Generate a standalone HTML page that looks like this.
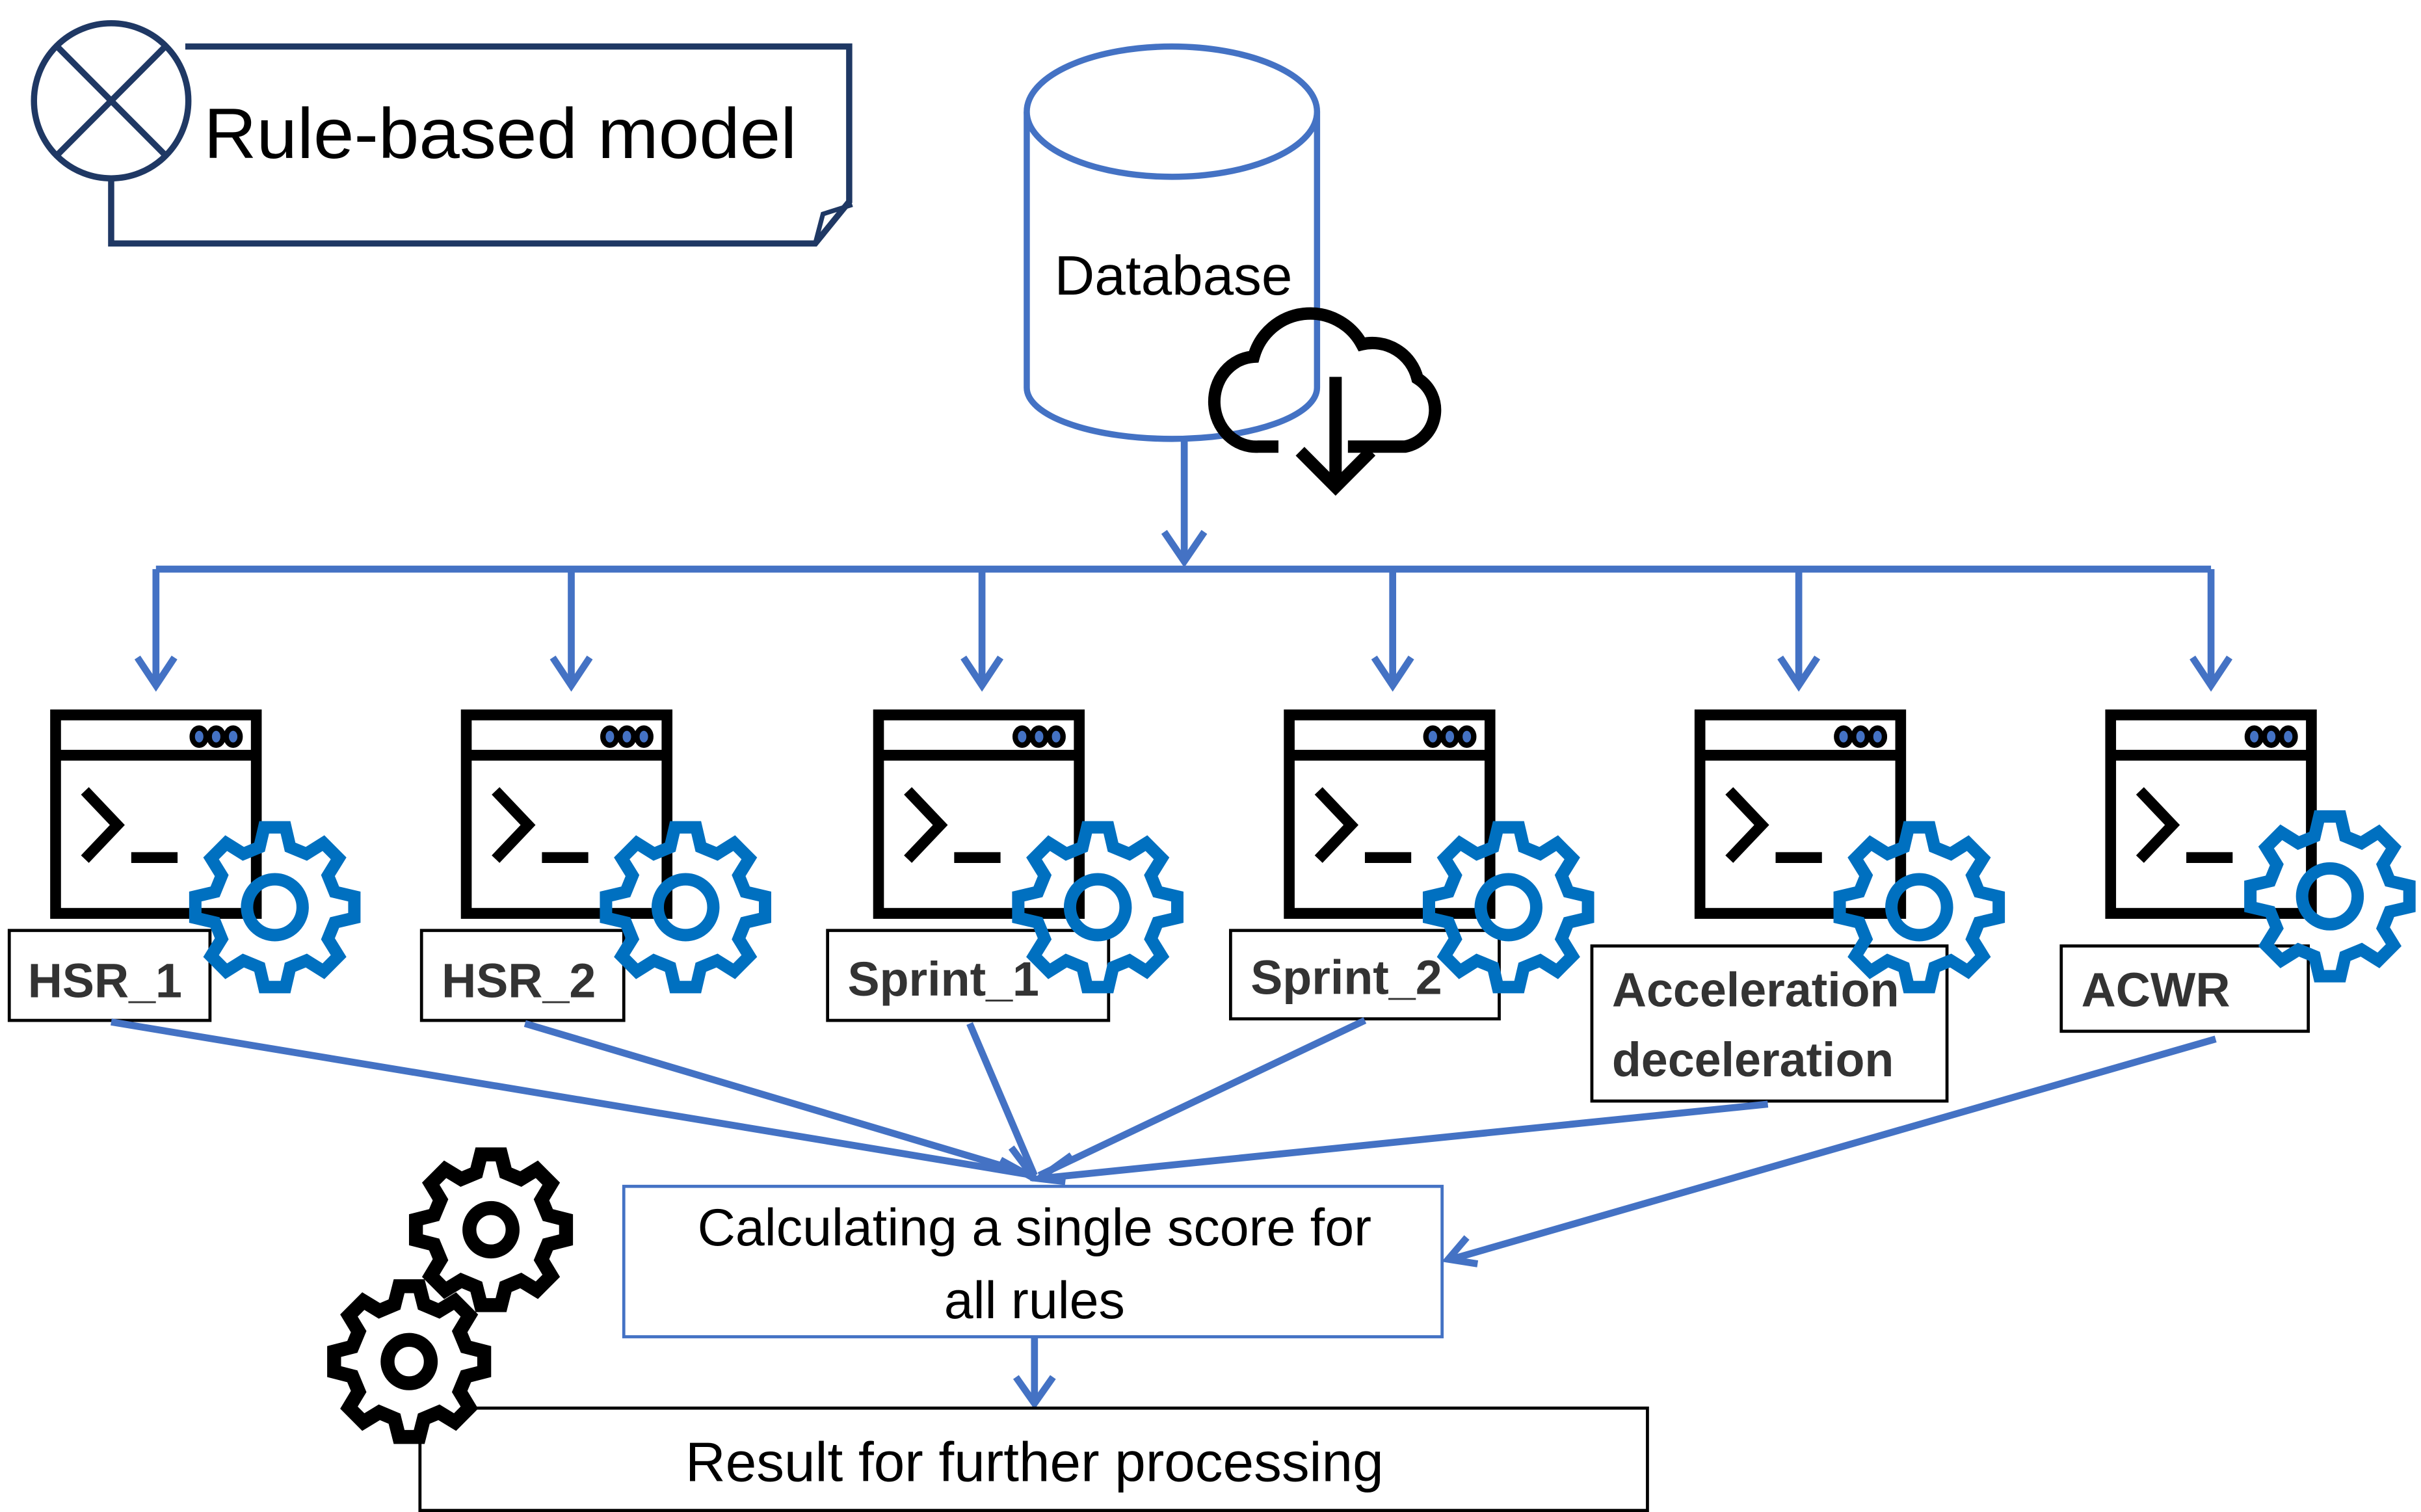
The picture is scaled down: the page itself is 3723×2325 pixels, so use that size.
<!DOCTYPE html>
<html><head><meta charset="utf-8"><style>
html,body{margin:0;padding:0;background:#fff;}
svg{display:block;}
text{font-family:"Liberation Sans",sans-serif;}
</style></head><body>
<svg id="s" width="3723" height="2325" viewBox="0 0 1568 975" preserveAspectRatio="none" xmlns="http://www.w3.org/2000/svg">
<!-- Rule-based model -->
<path d="M120 30 H550 V130 L528 157 H72 V115" fill="none" stroke="#1f3864" stroke-width="4"/>
<path d="M528 157 L533 138 L552 132" fill="none" stroke="#1f3864" stroke-width="3"/>
<circle cx="72" cy="65" r="50" fill="#fff" stroke="#1f3864" stroke-width="4"/>
<line x1="37" y1="30" x2="107" y2="100" stroke="#1f3864" stroke-width="4"/>
<line x1="107" y1="30" x2="37" y2="100" stroke="#1f3864" stroke-width="4"/>
<text x="132" y="102" font-size="46" fill="#000" textLength="384" lengthAdjust="spacingAndGlyphs">Rule-based model</text>
<!-- Database -->
<path d="M665 72 V250 A94 33 0 0 0 853 250 V72" fill="#fff" stroke="#4472c4" stroke-width="4"/>
<ellipse cx="759" cy="72" rx="94" ry="42" fill="#fff" stroke="#4472c4" stroke-width="4"/>
<text x="760" y="190" font-size="36" text-anchor="middle">Database</text>
<!-- cloud -->
<path d="M828 288 H815 A27 29 0 0 1 812 230 A38 38 0 0 1 882 222 A30 30 0 0 1 918 244 A24 24 0 0 1 910 288 H873" fill="none" stroke="#000" stroke-width="8"/>
<line x1="865" y1="243" x2="865" y2="312" stroke="#000" stroke-width="8"/>
<polyline points="842,291 865,314 888,291" fill="none" stroke="#000" stroke-width="8"/>
<!-- connectors -->
<g stroke="#4472c4" stroke-width="4.5" fill="none">
<line x1="767" y1="283" x2="767" y2="360"/>
<polyline points="754,343 767,362 780,343"/>
<line x1="101" y1="367" x2="1432" y2="367"/>
</g>
<g id="drops" stroke="#4472c4" stroke-width="4.5" fill="none"></g>
<g id="icons"></g>
<!-- labels -->
<g fill="#fff" stroke="#000" stroke-width="2">
<rect x="6" y="600" width="130" height="58"/>
<rect x="273" y="600" width="131" height="58"/>
<rect x="536" y="600" width="182" height="58"/>
<rect x="797" y="600" width="174" height="57"/>
<rect x="1031" y="610" width="230" height="100"/>
<rect x="1335" y="610" width="160" height="55"/>
</g>
<g id="gears"></g>
<g font-size="31" font-weight="bold" fill="#333">
<text x="18" y="643">HSR_1</text>
<text x="286" y="643">HSR_2</text>
<text x="549" y="642">Sprint_1</text>
<text x="810" y="641">Sprint_2</text>
<text x="1044" y="649">Acceleration</text>
<text x="1044" y="694">deceleration</text>
<text x="1348" y="649">ACWR</text>
</g>
<g stroke="#4472c4" stroke-width="4.5" fill="none">
<line x1="72" y1="659" x2="670" y2="758"/>
<line x1="340" y1="660" x2="670" y2="758"/>
<line x1="628" y1="660" x2="670" y2="758"/>
<line x1="884" y1="658" x2="673" y2="758"/>
<line x1="1145" y1="712" x2="673" y2="760"/>
<line x1="1435" y1="670" x2="940" y2="812"/>
<polyline points="648,748 670,760 655,740"/>
<polyline points="694,745 673,760 690,762"/>
<polyline points="950,798 938,812 957,815"/>
<line x1="670" y1="862" x2="670" y2="903"/>
<polyline points="658,888 670,905 682,888"/>
</g>
<rect x="404" y="765" width="530" height="97" fill="#fff" stroke="#4472c4" stroke-width="2"/>
<text x="670" y="803" font-size="34" text-anchor="middle">Calculating a single score for</text>
<text x="670" y="850" font-size="34" text-anchor="middle">all rules</text>
<rect x="272" y="908" width="795" height="66" fill="#fff" stroke="#000" stroke-width="2"/>
<text x="670" y="955" font-size="36" text-anchor="middle">Result for further processing</text>
<g id="bgears"></g>
</svg>
<script>
function gear(cx,cy,ro,ri,n){
  var p=[],step=2*Math.PI/n;
  for(var i=0;i<n;i++){
    var a=i*step-Math.PI/2;
    var pts=[[ri,a-step*0.32],[ro,a-step*0.17],[ro,a+step*0.17],[ri,a+step*0.32]];
    pts.forEach(function(q){p.push((cx+q[0]*Math.cos(q[1])).toFixed(1)+","+(cy+q[0]*Math.sin(q[1])).toFixed(1));});
  }
  return "M"+p.join(" L")+" Z";
}
var NS="http://www.w3.org/2000/svg";
function el(par,tag,at){var e=document.createElementNS(NS,tag);for(var k in at)e.setAttribute(k,at[k]);document.getElementById(par).appendChild(e);}
var xs=[33,299,566,832,1098,1364], ax=[101,370,636,902,1165,1432];
for(var i=0;i<6;i++){
  var x=xs[i];
  el("drops","line",{x1:ax[i],y1:367,x2:ax[i],y2:440});
  el("drops","polyline",{points:(ax[i]-12)+",424 "+ax[i]+",442 "+(ax[i]+12)+",424"});
  el("icons","rect",{x:x+3,y:461,width:130,height:128,fill:"#fff",stroke:"#000","stroke-width":7});
  el("icons","line",{x1:x,y1:487,x2:x+136,y2:487,stroke:"#000","stroke-width":7});
  for(var d=0;d<3;d++) el("icons","ellipse",{cx:x+96+d*11,cy:475,rx:4.5,ry:5.5,fill:"#4472c4",stroke:"#000","stroke-width":3.5});
  el("icons","polyline",{points:(x+22)+",510 "+(x+43)+",532 "+(x+22)+",554",fill:"none",stroke:"#000","stroke-width":7});
  el("icons","line",{x1:x+52,y1:553,x2:x+82,y2:553,stroke:"#000","stroke-width":7});
  var gx=x+145, gy=(i==5?578:585);
  el("gears","path",{d:gear(gx,gy,52,40,8),fill:"none",stroke:"#0070c0","stroke-width":8,"stroke-linejoin":"miter"});
  el("gears","circle",{cx:gx,cy:gy,r:18,fill:"none",stroke:"#0070c0","stroke-width":8});
}
[[318,793],[265,878]].forEach(function(c){
  el("bgears","path",{d:gear(c[0],c[1],49,38,8),fill:"#fff",stroke:"#000","stroke-width":9});
  el("bgears","circle",{cx:c[0],cy:c[1],r:14,fill:"none",stroke:"#000","stroke-width":9});
});
</script>
</body></html>
